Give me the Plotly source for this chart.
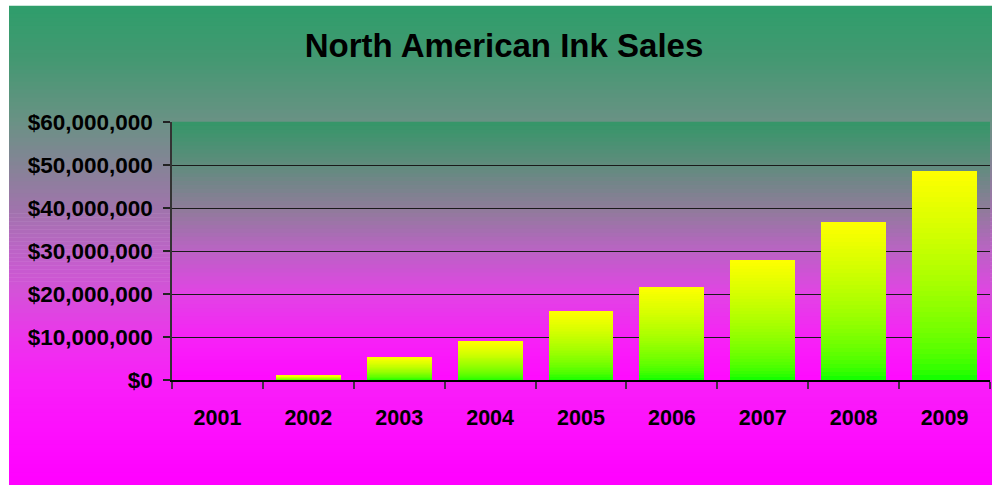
import plotly.graph_objects as go
import numpy as np

years = ["2001", "2002", "2003", "2004", "2005", "2006", "2007", "2008", "2009"]
sales = [0, 1000000, 5200000, 8900000, 16000000, 21600000, 27900000, 36800000, 48700000]
title_text = "North American Ink Sales"

W, H = 997, 485
L, R, T, B = 172, 990, 122, 380  # plot area in px

def px_to_paper_x(px):
    return (px - L) / (R - L)

def px_to_paper_y(py):
    return (B - py) / (B - T)

def interp_color(stops, py):
    ys = [s[0] for s in stops]
    cols = np.array([s[1] for s in stops], dtype=float)
    c = [np.interp(py, ys, cols[:, k]) for k in range(3)]
    return "rgb(%d,%d,%d)" % tuple(int(round(v)) for v in c)

paper_stops = [
    (6, (46, 158, 107)),
    (60, (68, 152, 114)),
    (120, (105, 146, 132)),
    (165, (132, 132, 150)),
    (210, (160, 116, 172)),
    (250, (188, 100, 198)),
    (295, (214, 80, 218)),
    (340, (236, 52, 236)),
    (380, (248, 32, 248)),
    (430, (253, 15, 253)),
    (485, (255, 0, 255)),
]
plot_stops = [
    (122, (52, 150, 104)),
    (165, (95, 140, 125)),
    (207, (140, 125, 152)),
    (250, (185, 100, 195)),
    (293, (225, 68, 228)),
    (337, (246, 35, 246)),
    (380, (255, 10, 255)),
]

shapes = []
# paper gradient
y0p, y1p = 6, 485
x0p, x1p = 9, 992
n = 120
edges = np.linspace(y0p, y1p, n + 1)
for i in range(n):
    a, b = edges[i], edges[i + 1]
    shapes.append(dict(type="rect", xref="paper", yref="paper",
                       x0=px_to_paper_x(x0p), x1=px_to_paper_x(x1p),
                       y0=px_to_paper_y(a - 0.3), y1=px_to_paper_y(b + 0.3),
                       fillcolor=interp_color(paper_stops, (a + b) / 2),
                       line=dict(width=0), layer="below"))
# plot gradient
n2 = 65
edges2 = np.linspace(T, B, n2 + 1)
for i in range(n2):
    a, b = edges2[i], edges2[i + 1]
    shapes.append(dict(type="rect", xref="paper", yref="paper",
                       x0=0, x1=1,
                       y0=px_to_paper_y(min(a - 0.3, B)), y1=px_to_paper_y(max(b + 0.3, T)),
                       fillcolor=interp_color(plot_stops, (a + b) / 2),
                       line=dict(width=0), layer="below"))

fig = go.Figure()

# bars drawn as stacked slices to give a vertical yellow->green gradient
N = 40
for k in range(N):
    t = (k + 0.5) / N  # fraction from bottom
    r = int(round(255 * min(1.0, t ** 0.55)))
    g = 255
    color = "rgb(%d,%d,0)" % (r, g)
    fig.add_trace(go.Bar(
        x=years, y=[v / N for v in sales],
        marker=dict(color=color, line=dict(width=0)),
        showlegend=False, hoverinfo="skip",
    ))

FONT = "Liberation Sans, Arial, sans-serif"

fig.update_layout(
    width=W, height=H,
    margin=dict(l=L, r=W - R, t=T, b=H - B, pad=0),
    paper_bgcolor="white",
    plot_bgcolor="rgba(0,0,0,0)",
    barmode="stack",
    bargap=0.285,
    shapes=shapes,
    font=dict(family=FONT, color="black"),
    title=dict(text="<b>%s</b>" % title_text, x=px_to_paper_x(504), xref="paper",
               xanchor="center", y=1 - 45 / H, yanchor="middle",
               font=dict(size=33, color="black")),
    xaxis=dict(
        type="category",
        tickson="boundaries",
        ticks="outside", ticklen=7, tickwidth=1.5, tickcolor="#4a2a4a",
        showline=True, linecolor="black", linewidth=1.5,
        showgrid=False,
        tickfont=dict(size=21.5, color="black", family=FONT, weight="bold"),
        ticklabelstandoff=17,
    ),
    yaxis=dict(
        range=[0, 60000000], dtick=10000000, tick0=0,
        tickformat="$,.0f",
        ticks="outside", ticklen=7, tickwidth=1.5, tickcolor="#222",
        showline=True, linecolor="#333", linewidth=1.5,
        showgrid=True, gridcolor="#1a1a1a", gridwidth=1.2,
        zeroline=False,
        tickfont=dict(size=22.5, color="black", family=FONT, weight="bold"),
        ticklabelstandoff=6,
    ),
)

fig.write_html("out.html")
